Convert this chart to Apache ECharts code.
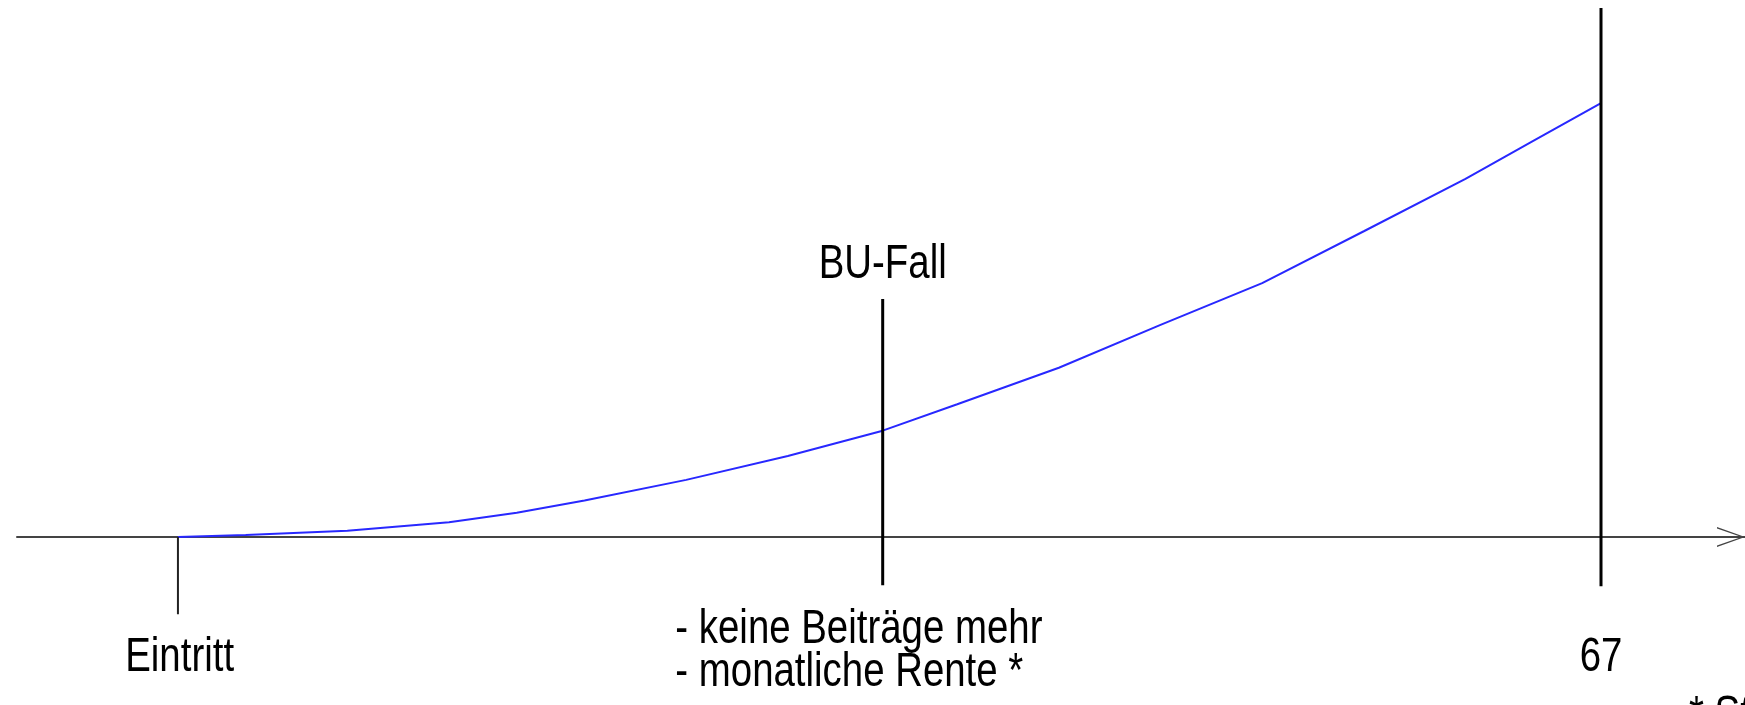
<!DOCTYPE html>
<html>
<head>
<meta charset="utf-8">
<script src="https://cdn.jsdelivr.net/npm/echarts@6/dist/echarts.min.js"></script>
<style>
  html, body { margin: 0; padding: 0; background: #fff; }
  #chart { width: 1745px; height: 705px; }
</style>
</head>
<body>
<div id="chart"></div>
<script>
// Kurve: Alter -> Wert (willkürliche Einheit)
var ages   = [25, 27, 30, 33, 35, 37, 40, 43, 45.8, 48, 51, 54, 57, 60, 63, 65, 67];
var values = [0, 0.4, 1.2, 2.8, 4.6, 6.9, 10.8, 15.3, 20.1, 25.1, 32.0, 40.1, 48.0, 57.8, 67.7, 74.9, 82.0];

// senkrechte Markierungen: Eintritt, BU-Fall, 67
var markerAges   = [25, 45.8, 67];
var markerTop    = [0, 45, 100];
var markerBottom = [-14.6, -9.1, -9.3];
var markerWidth  = [2, 3, 3];

// Beschriftungen (Ankerpunkte in Achsenwerten)
var labelTexts = ['Eintritt', 'BU-Fall', '67', '- keine Beiträge mehr\n- monatliche Rente *', '* St'];
var labelAges  = [25.05, 45.8, 67, 39.68, 67];
var labelVals  = [-22.9, 51.4, -22.9, -21.55, -30];
var labelAlign = ['center', 'center', 'center', 'left', 'left'];
var labelVAlign = ['middle', 'middle', 'middle', 'middle', 'top'];
var labelDx    = [0, 0, 0, 0, 88];

var FONT = "'Liberation Sans', Arial, sans-serif";

var myChart = echarts.init(document.getElementById('chart'));

var series = [
    {
        name: 'Kurve',
        type: 'line',
        data: ages.map(function (a, i) { return [a, values[i]]; }),
        symbol: 'none',
        z: 3,
        lineStyle: { color: '#2828ff', width: 2 }
    }
];

markerAges.forEach(function (a, i) {
    series.push({
        type: 'line',
        data: [[a, markerTop[i]], [a, markerBottom[i]]],
        symbol: 'none',
        z: 4,
        lineStyle: { color: i === 0 ? '#222' : '#000', width: markerWidth[i] }
    });
});

var option = {
    animation: false,
    backgroundColor: '#fff',
    grid: { left: 17, right: 0, top: 8, bottom: 9.3 },
    xAxis: {
        type: 'value',
        min: 20.25,
        max: 71.25,
        axisLine: {
            onZero: true,
            lineStyle: { color: '#444', width: 2 },
            symbol: ['none', 'path://M10,0 L20,28 L18.4,28 L10,3.5 L1.6,28 L0,28 Z'],
            symbolSize: [21, 28],
            symbolOffset: [0, -14]
        },
        axisTick: { show: false },
        axisLabel: { show: false },
        splitLine: { show: false }
    },
    yAxis: {
        type: 'value',
        min: -30,
        max: 100,
        show: false,
        splitLine: { show: false }
    },
    series: series
};

myChart.setOption(option);

// schmale Schrift: Texte horizontal gestaucht, Position über die Achsen berechnet
var texts = labelTexts.map(function (t, i) {
    var p = myChart.convertToPixel({ gridIndex: 0 }, [labelAges[i], labelVals[i]]);
    return {
        type: 'text',
        x: p[0] + labelDx[i],
        y: labelVAlign[i] === 'top' ? p[1] - 1 : p[1],
        scaleX: 0.8,
        z: 10,
        style: {
            text: t,
            fontFamily: FONT,
            fontSize: 48,
            lineHeight: 43,
            fill: '#000',
            align: labelAlign[i],
            verticalAlign: labelVAlign[i]
        }
    };
});

myChart.setOption({ graphic: texts });
</script>
</body>
</html>
